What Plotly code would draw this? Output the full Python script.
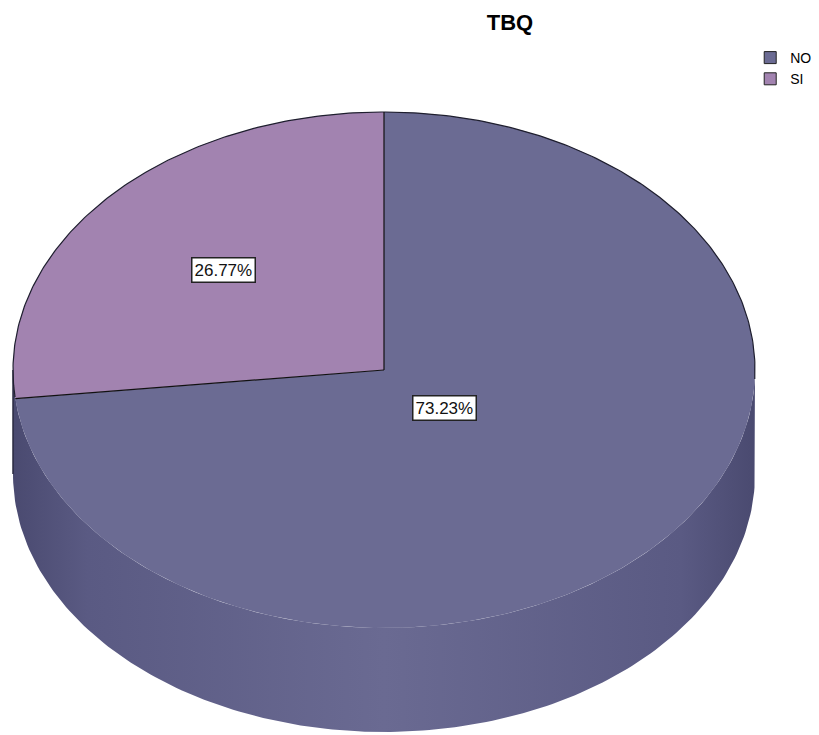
import numpy as np
import plotly.graph_objects as go

title = "TBQ"
categories = ["NO", "SI"]
percents = [73.23, 26.77]
labels = ["73.23%", "26.77%"]
top_colors = ["#6b6b93", "#a283b0"]

W, H = 819, 735
cx, cy = 384, 370
rx, ry = 371, 258
depth = 104
label_frac = [0.22, 0.58]
FONT = "Arial, Liberation Sans, sans-serif"


def ell(t):
    t = np.radians(t)
    return cx + rx * np.cos(t), cy - ry * np.sin(t)


fig = go.Figure()

# side of the cylinder (front half)
t = np.linspace(180, 360, 181)
xs, ys = ell(t)
sx = np.concatenate([xs, xs[::-1], xs[:1]])
sy = np.concatenate([ys, ys[::-1] + depth, ys[:1]])
fig.add_trace(go.Scatter(
    x=sx, y=sy, mode="lines", fill="toself",
    line=dict(color="rgba(0,0,0,0)", width=0),
    fillgradient=dict(type="horizontal", colorscale=[
        [0, "#4a4a70"], [0.1, "#5a5a83"], [0.5, "#6a6a92"],
        [0.9, "#5a5a83"], [1, "#4a4a70"]]),
    hoverinfo="skip", showlegend=False))

# left vertical edge of the side
lx0, ly0 = ell(180)
fig.add_trace(go.Scatter(x=[lx0, lx0], y=[ly0, ly0 + depth], mode="lines",
                         line=dict(color="#2a2a40", width=1.5),
                         hoverinfo="skip", showlegend=False))

# top faces
start = 90.0
for cat, pct, col in zip(categories, percents, top_colors):
    end = start - pct * 3.6
    tt = np.linspace(start, end, 300)
    px, py = ell(tt)
    fx = np.concatenate([[cx], px, [cx]])
    fy = np.concatenate([[cy], py, [cy]])
    fig.add_trace(go.Scatter(
        x=fx, y=fy, mode="lines", fill="toself", fillcolor=col,
        line=dict(color="rgba(0,0,0,0)", width=0),
        hoverinfo="skip", showlegend=False))
    start = end

# back outline of top ellipse
tb = np.linspace(-2, 186, 300)
bx, by = ell(tb)
fig.add_trace(go.Scatter(x=bx, y=by, mode="lines",
                         line=dict(color="#1e1e2e", width=1.2),
                         hoverinfo="skip", showlegend=False))

# slice dividing lines
start = 90.0
for pct in percents:
    ex, ey = ell(start)
    fig.add_trace(go.Scatter(x=[cx, ex], y=[cy, ey], mode="lines",
                             line=dict(color="#111", width=1.2),
                             hoverinfo="skip", showlegend=False))
    start -= pct * 3.6

# legend entries
for cat, col in zip(categories, top_colors):
    fig.add_trace(go.Scatter(
        x=[None], y=[None], mode="markers", name=cat,
        marker=dict(symbol="square", size=12, color=col,
                    line=dict(color="#222", width=1))))

# labels
start = 90.0
for lab, pct, f in zip(labels, percents, label_frac):
    end = start - pct * 3.6
    mid = np.radians((start + end) / 2)
    lx = cx + f * rx * np.cos(mid)
    ly = cy - f * ry * np.sin(mid)
    fig.add_annotation(x=lx, y=ly, text=lab, showarrow=False,
                       font=dict(family=FONT, size=17, color="#111"),
                       bgcolor="white", bordercolor="#222", borderwidth=1.5, borderpad=2)
    start = end

fig.update_layout(
    width=W, height=H,
    margin=dict(l=0, r=0, t=0, b=0),
    paper_bgcolor="white", plot_bgcolor="white",
    xaxis=dict(range=[0, W], visible=False, fixedrange=True),
    yaxis=dict(range=[H, 0], visible=False, fixedrange=True),
    title=dict(text="<b>TBQ</b>", x=510 / W, xanchor="center", y=1 - 22 / H, yanchor="middle",
               font=dict(family=FONT, size=22, color="black")),
    legend=dict(x=0.916, y=1 - 42 / H, xanchor="left", yanchor="top",
                font=dict(family=FONT, size=14, color="black"),
                itemwidth=30, tracegroupgap=0, bgcolor="rgba(0,0,0,0)"),
)

fig.write_html("out.html")
